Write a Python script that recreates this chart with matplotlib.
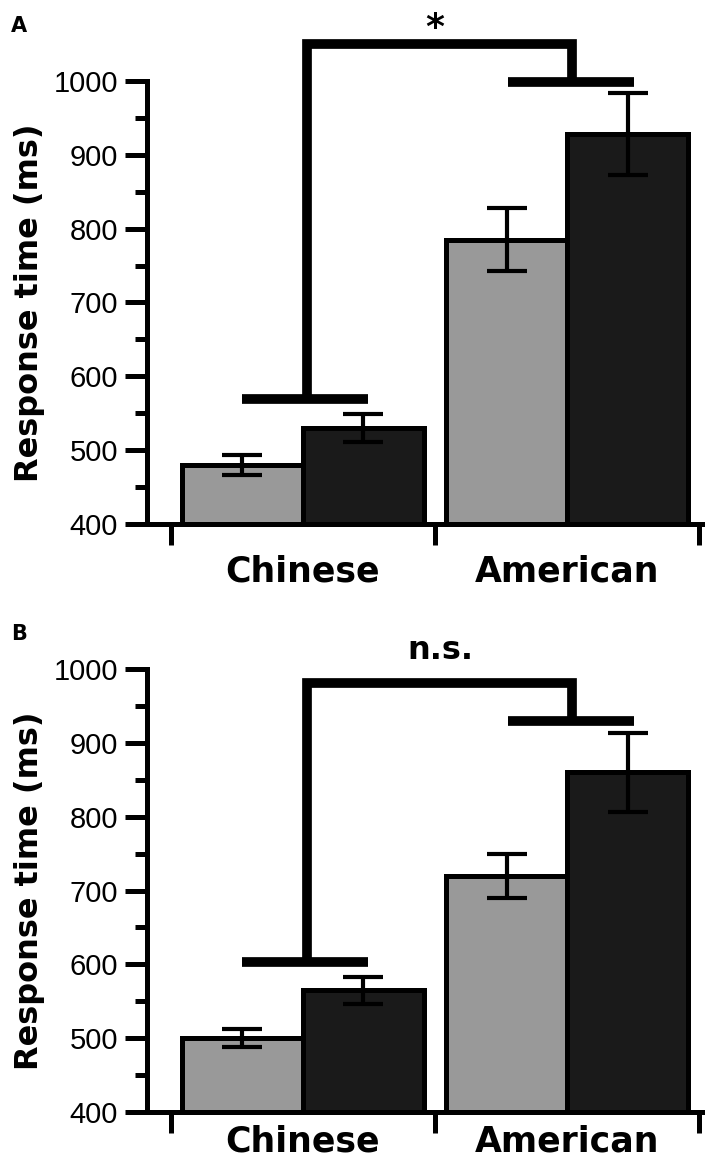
import matplotlib
matplotlib.use("Agg")
import matplotlib.pyplot as plt
import numpy as np
from matplotlib.ticker import MultipleLocator

# data (ms)
groups = ["Chinese", "American"]
a_gray = [480, 785]
a_gray_err = [13, 43]
a_black = [530, 928]
a_black_err = [19, 56]

b_gray = [500, 720]
b_gray_err = [12, 30]
b_black = [565, 860]
b_black_err = [18, 54]

# significance brackets: (chinese level, top level, american level, label)
a_bracket = (569, 1050, 999, "*")
b_bracket = (603, 981, 930, "n.s.")

bold = dict(family="DejaVu Sans", weight="bold")

fig = plt.figure(figsize=(7.08, 11.67), dpi=100)
axA = fig.add_axes([0.2076, 0.551, 0.784, 0.3796])
axB = fig.add_axes([0.2076, 0.0471, 0.784, 0.3796])

w = 0.458
x = np.arange(len(groups))


def panel(ax, gray, gerr, black, berr, bracket, xpad):
    ax.bar(x - w / 2, gray, w, color="#999999", edgecolor="black", linewidth=3.6, zorder=2)
    ax.bar(x + w / 2, black, w, color="#1a1a1a", edgecolor="black", linewidth=3.6, zorder=2)
    ax.errorbar(x - w / 2, gray, yerr=gerr, fmt="none", ecolor="black",
                elinewidth=3, capsize=14.5, capthick=3, zorder=3)
    ax.errorbar(x + w / 2, black, yerr=berr, fmt="none", ecolor="black",
                elinewidth=3, capsize=14.5, capthick=3, zorder=3)

    lo_c, top, lo_a, lab = bracket
    kw = dict(color="black", lw=7, clip_on=False, solid_capstyle="butt",
              solid_joinstyle="miter", zorder=4)
    ax.plot([-0.23, 0.245], [lo_c, lo_c], **kw)
    ax.plot([0.777, 1.254], [lo_a, lo_a], **kw)
    ax.plot([0.015, 0.015, 1.019, 1.019], [lo_c, top, top, lo_a], **kw)
    if lab == "*":
        ax.text(0.5, top + 22, lab, ha="center", va="center", fontsize=26, **bold)
    else:
        ax.text(0.519, top + 44, lab, ha="center", va="center", fontsize=23, **bold)

    ax.set_xlim(-0.59, 1.51)
    ax.set_ylim(400, 1000)
    for s in ["top", "right"]:
        ax.spines[s].set_visible(False)
    for s in ["left", "bottom"]:
        ax.spines[s].set_linewidth(3.6)

    ax.yaxis.set_major_locator(MultipleLocator(100))
    ax.yaxis.set_minor_locator(MultipleLocator(50))
    ax.tick_params(axis="y", which="major", length=16, width=3.6, pad=5, labelsize=21)
    ax.tick_params(axis="y", which="minor", length=8.6, width=3.6)
    for t in ax.get_yticklabels():
        t.set_family("Liberation Sans")

    ax.set_xticks([-0.5, 0.5, 1.5])
    ax.set_xticklabels([])
    ax.set_xticks(x, minor=True)
    ax.set_xticklabels(groups, minor=True, fontsize=25, **bold)
    ax.tick_params(axis="x", which="major", length=15, width=3.6)
    ax.tick_params(axis="x", which="minor", length=0, pad=xpad)

    ax.set_ylabel("Response time (ms)", fontsize=23, labelpad=6, **bold)


panel(axA, a_gray, a_gray_err, a_black, a_black_err, a_bracket, 22)
panel(axB, b_gray, b_gray_err, b_black, b_black_err, b_bracket, 9)

fig.text(11 / 708, 1 - 32 / 1167, "A", fontsize=15, ha="left", va="baseline", **bold)
fig.text(11 / 708, 1 - 640 / 1167, "B", fontsize=15, ha="left", va="baseline", **bold)

fig.savefig("out.png", dpi=100)
